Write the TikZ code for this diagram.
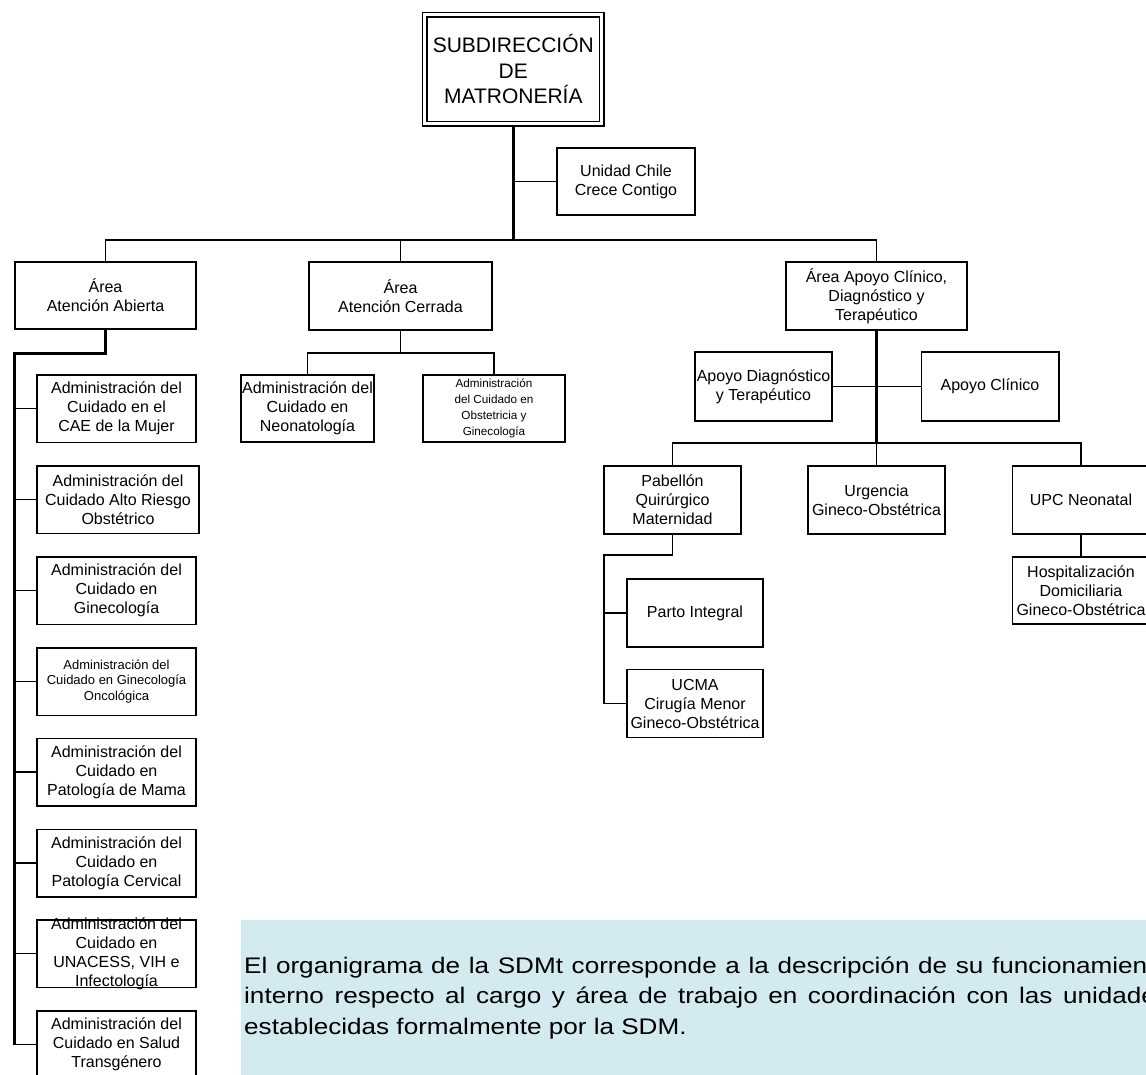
\documentclass[tikz,border=0pt]{standalone}
\usepackage{fontspec}
\setmainfont{Liberation Sans}
\newfontfamily\ancha[FakeStretch=1.16]{Liberation Sans}
\definecolor{celeste}{RGB}{210,234,240}
\begin{document}
\begin{tikzpicture}[x=1pt,y=-1pt,line join=miter,
	caja/.style={draw,line width=1.5pt,inner sep=0pt,align=center,font=\fontsize{16}{19}\selectfont},
	fino/.style={line width=1.4pt},
	grueso/.style={line width=3pt}]
		\useasboundingbox (0,0) rectangle (1146,1075);
		% nota al pie
		\fill[celeste] (241,920) rectangle (1160,1080);
		\node[anchor=north west,inner sep=0pt,align=left,font=\ancha\fontsize{22.5}{30.5}\selectfont] (nota) at (244,956.5)
		{\makebox[925pt][s]{El organigrama de la SDMt corresponde a la descripción de su funcionamiento}\\
		\makebox[925pt][s]{interno respecto al cargo y área de trabajo en coordinación con las unidades}\\
		establecidas formalmente por la SDM.};
		% cajas
		\node[caja,double,double distance=2.8pt,line width=1.4pt,outer sep=2.8pt,minimum width=177pt,minimum height=109pt,font=\fontsize{21}{25.5}\selectfont] (sub) at (513.3,69.3) {SUBDIRECCIÓN\\DE\\MATRONERÍA};
		\node[caja,minimum width=138pt,minimum height=67pt] (chile) at (626,181.5) {Unidad Chile\\Crece Contigo};
		\node[caja,minimum width=181pt,minimum height=67pt] (abierta) at (105.5,295.5) {Área\\Atención Abierta};
		\node[caja,minimum width=183pt,minimum height=68pt] (cerrada) at (400.5,296) {Área\\Atención Cerrada};
		\node[caja,minimum width=181pt,minimum height=68pt] (apoyo) at (876.5,296) {Área Apoyo Clínico,\\Diagnóstico y\\Terapéutico};
		\node[caja,minimum width=159pt,minimum height=67.5pt] (cae) at (116.5,408.7) {Administración del\\Cuidado en el\\CAE de la Mujer};
		\node[caja,minimum width=162pt,minimum height=67.5pt] (riesgo) at (118,499.7) {Administración del\\Cuidado Alto Riesgo\\Obstétrico};
		\node[caja,minimum width=159pt,minimum height=67.5pt] (gineco) at (116.5,590.5) {Administración del\\Cuidado en\\Ginecología};
		\node[caja,minimum width=159pt,minimum height=67.5pt,font=\fontsize{13}{15.8}\selectfont] (onco) at (116.5,681.5) {Administración del\\Cuidado en Ginecología\\Oncológica};
		\node[caja,minimum width=159pt,minimum height=67.5pt] (mama) at (116.5,772) {Administración del\\Cuidado en\\Patología de Mama};
		\node[caja,minimum width=159pt,minimum height=67.5pt] (cervical) at (116.5,863) {Administración del\\Cuidado en\\Patología Cervical};
		\node[caja,minimum width=159pt,minimum height=67.5pt,inner ysep=-3.2pt] (unacess) at (116.5,953.7) {Administración del\\Cuidado en\\UNACESS, VIH e\\Infectología};
		\node[caja,minimum width=159pt,minimum height=67.5pt] (trans) at (116.5,1044.5) {Administración del\\Cuidado en Salud\\Transgénero};
		\node[caja,minimum width=133pt,minimum height=67pt] (neo) at (307.5,408.5) {Administración del\\Cuidado en\\Neonatología};
		\node[caja,minimum width=142pt,minimum height=67pt,font=\fontsize{11.7}{16}\selectfont] (obst) at (494,408.5) {Administración\\del Cuidado en\\Obstetricia y\\Ginecología};
		\node[caja,minimum width=137pt,minimum height=69pt] (diag) at (763.5,386.5) {Apoyo Diagnóstico\\y Terapéutico};
		\node[caja,minimum width=137.5pt,minimum height=69pt] (clinico) at (990,386.5) {Apoyo Clínico};
		\node[caja,minimum width=137pt,minimum height=68pt] (pab) at (672.5,500) {Pabellón\\Quirúrgico\\Maternidad};
		\node[caja,minimum width=137pt,minimum height=68pt] (urg) at (876.5,500) {Urgencia\\Gineco-Obstétrica};
		\node[caja,minimum width=137pt,minimum height=68pt] (upc) at (1081,500) {UPC Neonatal};
		\node[caja,minimum width=136pt,minimum height=68pt] (parto) at (695,613) {Parto Integral};
		\node[caja,minimum width=136pt,minimum height=68pt] (ucma) at (695,703.5) {UCMA\\Cirugía Menor\\Gineco-Obstétrica};
		\node[caja,minimum width=137pt,minimum height=67pt] (hosp) at (1081,590.5) {Hospitalización\\Domiciliaria\\Gineco-Obstétrica};
		% lineas
		\coordinate (bus) at (0,240);
		\coordinate (colA) at (14,353);
		\coordinate (busC) at (0,353);
		\coordinate (busD) at (0,443);
		\coordinate (colP) at (604,555);
		\draw[grueso] (sub.south) -- (sub.south |- bus);
		\draw[fino] (sub.south |- chile.west) -- (chile.west);
		\draw[fino] (abierta.north) |- (apoyo.north |- bus) -- (apoyo.north);
		\draw[fino] (cerrada.north) -- (cerrada.north |- bus);
		\draw[grueso] (abierta.south) |- (colA) -- (colA |- trans.west);
		\foreach \n in {cae,riesgo,gineco,onco,mama,cervical,unacess,trans}
		\draw[fino] (colA |- \n.west) -- (\n.west);
		\draw[fino] (cerrada.south) -- (cerrada.south |- busC);
		\draw[fino] (neo.north) |- (obst.north |- busC) -- (obst.north);
		\draw[fino] (diag.east) -- (clinico.west);
		\draw[grueso] (apoyo.south) -- (apoyo.south |- busD);
		\draw[fino] (pab.north) |- (upc.north |- busD) -- (upc.north);
		\draw[fino] (urg.north) -- (urg.north |- busD);
		\draw[fino] (pab.south) |- (colP) -- (colP |- ucma.west);
		\foreach \n in {parto,ucma}
		\draw[fino] (colP |- \n.west) -- (\n.west);
		\draw[fino] (upc.south) -- (hosp.north);
		\end{tikzpicture}
\end{document}
